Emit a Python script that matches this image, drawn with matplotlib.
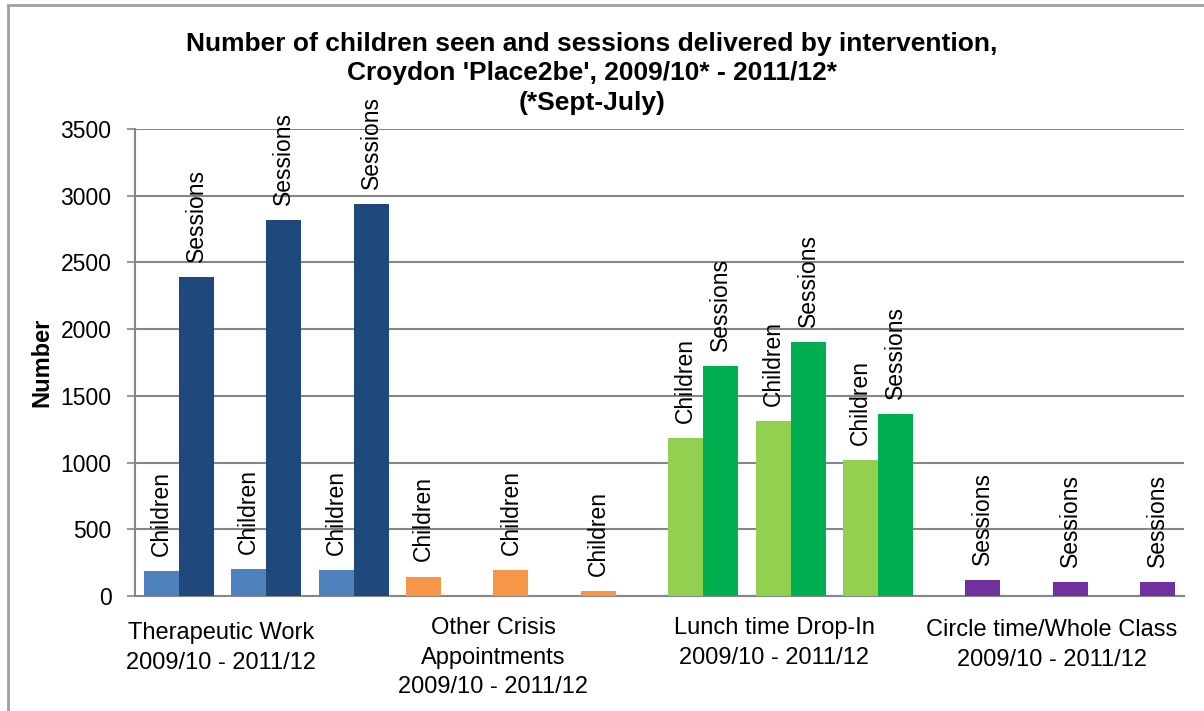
import matplotlib
matplotlib.use('Agg')
import matplotlib.pyplot as plt
from matplotlib.patches import Rectangle

# values (3 years each: 2009/10, 2010/11, 2011/12)
groups = ['Therapeutic Work\n2009/10 - 2011/12',
          'Other Crisis\nAppointments\n2009/10 - 2011/12',
          'Lunch time Drop-In\n2009/10 - 2011/12',
          'Circle time/Whole Class\n2009/10 - 2011/12']
title_lines = ["Number of children seen and sessions delivered by intervention,",
               "Croydon 'Place2be', 2009/10* - 2011/12*",
               "(*Sept-July)"]
therapeutic_children = [185, 200, 195]
therapeutic_sessions = [2390, 2815, 2935]
crisis_children = [145, 195, 35]
crisis_sessions = [None, None, None]
lunch_children = [1185, 1310, 1020]
lunch_sessions = [1725, 1905, 1365]
circle_children = [None, None, None]
circle_sessions = [120, 105, 105]

children = therapeutic_children + crisis_children + lunch_children + circle_children
sessions = therapeutic_sessions + crisis_sessions + lunch_sessions + circle_sessions
children_colors = ['#4F81BD'] * 3 + ['#F79646'] * 3 + ['#92D050'] * 3 + ['#7030A0'] * 3
sessions_colors = ['#1F497D'] * 3 + ['#F79646'] * 3 + ['#00B050'] * 3 + ['#7030A0'] * 3

plt.rcParams['font.family'] = ['Liberation Sans', 'DejaVu Sans']

fig = plt.figure(figsize=(12.04, 7.11), dpi=100)
ax = fig.add_axes([135 / 1204, 1 - 596 / 711, (1184 - 135) / 1204, (596 - 129) / 711])

w = 0.4
for i in range(len(children)):
    for val, off, col, lab in [(children[i], -w / 2, children_colors[i], 'Children'),
                               (sessions[i], w / 2, sessions_colors[i], 'Sessions')]:
        if val is None:
            continue
        ax.bar(i + off, val, width=w, color=col, zorder=3)
        ax.annotate(lab, (i + off, val), xytext=(0, 11), textcoords='offset points',
                    rotation=90, ha='center', va='bottom', fontsize=16.5, zorder=4)

ax.set_xlim(-0.5, len(children) - 0.5)
ax.set_ylim(0, 3500)
ax.set_yticks(range(0, 3501, 500))
ax.set_xticks([])
ax.tick_params(axis='y', labelsize=16.5, length=6, color='#868686', pad=11, width=1.2)
ax.grid(axis='y', color='#868686', linewidth=1.5, zorder=0)
for s in ['top', 'right']:
    ax.spines[s].set_visible(False)
for s in ['left', 'bottom']:
    ax.spines[s].set_color('#868686')
    ax.spines[s].set_linewidth(1.5)
ax.set_ylabel('Number', fontsize=17, fontweight='bold')
ax.yaxis.set_label_coords((53 - 135) / 1049, 0.5)

# title, one line per text
for ty, line in zip([44, 73, 103], title_lines):
    fig.text(592 / 1204, 1 - ty / 711, line, ha='center', va='center',
             fontsize=19, fontweight='bold')

# category captions under the axis (text boxes in the original)
label_x = [221, 493, 774, 1052]
label_top = [622, 617, 617, 619]
for gx, gy, g in zip(label_x, label_top, groups):
    fig.text(gx / 1204, 1 - gy / 711, g, ha='center', va='top', fontsize=17,
             linespacing=1.45)

# chart frame
fig.patches.append(Rectangle((8 / 1204, -0.1), 1.2, 1 - 5 / 711 + 0.1,
                             transform=fig.transFigure, fill=False,
                             edgecolor='#A0A0A0', linewidth=2))

fig.savefig('out.png', dpi=100)
